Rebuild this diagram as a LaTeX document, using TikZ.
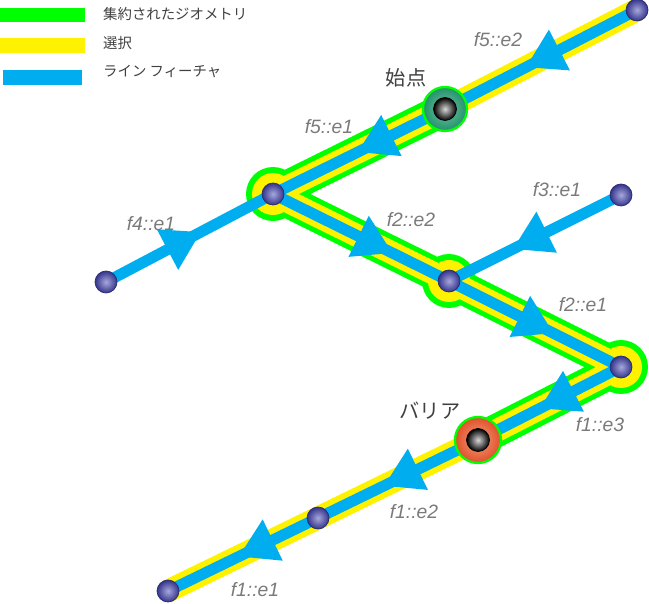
\documentclass[tikz,border=0pt]{standalone}
\usepackage{fontspec}
\setmainfont{Liberation Sans}
\newfontfamily\jpfont{Noto Sans CJK JP}
\usetikzlibrary{arrows.meta,decorations.markings,positioning,calc}
\definecolor{aggrgreen}{HTML}{00FF00}
\definecolor{selyellow}{HTML}{FFF200}
\definecolor{lineblue}{HTML}{00AEEF}
\definecolor{labelgray}{HTML}{7A7A7A}
\definecolor{textgray}{HTML}{404040}
\definecolor{balllight}{HTML}{A8A8DC}
\definecolor{balldark}{HTML}{34348C}
\definecolor{teallight}{HTML}{6CC9A6}
\definecolor{tealdark}{HTML}{23906A}
\definecolor{redlight}{HTML}{F4A07E}
\definecolor{reddark}{HTML}{E0502A}

\begin{document}
\begin{tikzpicture}[x=0.02cm, y=-0.02cm,
    aggr/.style={draw=aggrgreen, line width=18.8pt, line join=round},
    sel/.style={draw=selyellow, line width=13pt, line join=round},
    feat/.style={draw=lineblue, line width=6.3pt},
    edgearrow/.style={postaction={decorate}, decoration={markings,
        mark=at position #1 with {\arrow[lineblue]{Triangle[length=0.76cm,width=0.86cm]}}}},
    vertex/.style={circle, inner sep=0pt, minimum size=0.44cm,
        inner color=balllight, outer color=balldark, draw=balldark!80!black, line width=0.4pt},
    coreball/.style={circle, inner sep=0pt, minimum size=0.46cm,
        inner color=white!85!black, outer color=black, draw=black, line width=0.4pt},
    edgelabel/.style={text=labelgray, font=\itshape\fontsize{11}{13}\selectfont},
    jplabel/.style={text=textgray, font=\jpfont\fontsize{11.5}{13}\selectfont},
    legendtext/.style={text=textgray, anchor=west, font=\jpfont\fontsize{8.2}{10}\selectfont}]
        % Frame
        \useasboundingbox (0,0) rectangle (649,604);
        % Positions
        \coordinate (top) at (637,10);
        \coordinate (start) at (445,109);
        \coordinate (j1) at (273,194);
        \coordinate (f4end) at (106,282);
        \coordinate (j2) at (449,281);
        \coordinate (f3end) at (621,195);
        \coordinate (j3) at (621,367);
        \coordinate (barrier) at (478,440);
        \coordinate (mid) at (318,518);
        \coordinate (bottom) at (168,591);
        % Legend
        \fill[aggrgreen] (0,8) rectangle (85,22);
        \fill[selyellow] (0,38) rectangle (85,53);
        \fill[lineblue] (3,70) rectangle (82,85);
        \node[legendtext] (legaggr) at (97,14) {集約されたジオメトリ};
        \node[legendtext] (legsel) at (97,43) {選択};
        \node[legendtext] (legfeat) at (97,72) {ライン フィーチャ};
        % Aggregated geometry
        \draw[aggr] (start) -- (j1) -- (j2) -- (j3) -- (barrier);
        \foreach \j in {j1,j2,j3}
            \fill[aggrgreen] (\j) circle (0.54cm);
        % Selection
        \draw[sel] (top) -- (start) -- (j1) -- (j2) -- (j3) -- (barrier) -- (mid) -- (bottom);
        \foreach \j in {j1,j2,j3}
            \fill[selyellow] (\j) circle (0.42cm);
        % Line features
        \draw[feat, edgearrow=0.58] (top) -- (start);
        \draw[feat, edgearrow=0.51] (start) -- (j1);
        \draw[feat, edgearrow=0.57] (f4end) -- (j1);
        \draw[feat, edgearrow=0.68] (j1) -- (j2);
        \draw[feat, edgearrow=0.63] (f3end) -- (j2);
        \draw[feat, edgearrow=0.61] (j2) -- (j3);
        \draw[feat, edgearrow=0.57] (j3) -- (barrier);
        \draw[feat, edgearrow=0.59] (barrier) -- (mid);
        \draw[feat, edgearrow=0.53] (mid) -- (bottom);
        % Vertices
        \foreach \v in {top,j1,f4end,j2,f3end,j3,mid,bottom}
            \node[vertex] (\v ball) at (\v) {};
        % Start point and barrier
        \node[circle, minimum size=0.88cm, draw=aggrgreen, line width=1.3pt,
              inner color=teallight, outer color=tealdark] (startring) at (start) {};
        \node[coreball] (startcore) at (start) {};
        \node[circle, minimum size=0.92cm, draw=aggrgreen, line width=1.3pt,
              inner color=redlight, outer color=reddark] (barrierring) at (barrier) {};
        \node[coreball] (barriercore) at (barrier) {};
        % Labels
        \node[jplabel] (startlabel) at (406,78) {始点};
        \node[jplabel] (barrierlabel) at (430,411) {バリア};
        \node[edgelabel] (lblfiveb) at (498,40) {f5::e2};
        \node[edgelabel] (lblfivea) at (329,127) {f5::e1};
        \node[edgelabel] (lblfoura) at (151,224) {f4::e1};
        \node[edgelabel] (lbltwob) at (411,220) {f2::e2};
        \node[edgelabel] (lblthreea) at (557,190) {f3::e1};
        \node[edgelabel] (lbltwoa) at (583,305) {f2::e1};
        \node[edgelabel] (lblonec) at (600,425) {f1::e3};
        \node[edgelabel] (lbloneb) at (414,512) {f1::e2};
        \node[edgelabel] (lblonea) at (255,590) {f1::e1};
\end{tikzpicture}
\end{document}
